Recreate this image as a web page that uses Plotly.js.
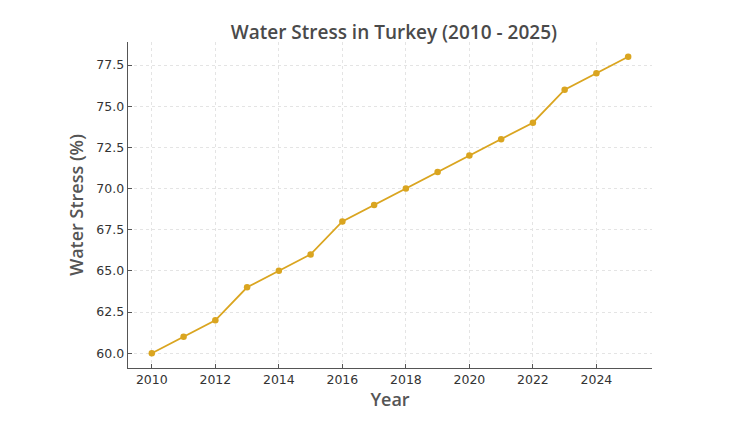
<!DOCTYPE html>
<html>
<head>
<meta charset="utf-8">
<script src="https://cdn.plot.ly/plotly-3.0.1.min.js"></script>
<style>
  body { margin: 0; background: #fff; }
  #myDiv { width: 746px; height: 423px; }
</style>
</head>
<body>
<div id="myDiv"></div>
<script>
// Datos
const years = [2010, 2011, 2012, 2013, 2014, 2015, 2016, 2017, 2018, 2019, 2020, 2021, 2022, 2023, 2024, 2025];
const waterStress = [60, 61, 62, 64, 65, 66, 68, 69, 70, 71, 72, 73, 74, 76, 77, 78];
const xTicks = [2010, 2012, 2014, 2016, 2018, 2020, 2022, 2024];
const yTicks = [60, 62.5, 65, 67.5, 70, 72.5, 75, 77.5];

let trace = {
    x: years,
    y: waterStress,
    mode: 'lines+markers',
    type: 'scatter',
    hoverinfo: 'none',
    line: { width: 1.8, color: '#DAA520' },
    marker: { size: 6.5, color: '#DAA520' }
};

let layout = {
    title: {
        text: 'Water Stress in Turkey (2010 - 2025)',
        font: { family: 'Open Sans', size: 19, color: '#4a4a4a', weight: 600 },
        x: 0.528, xanchor: 'center', y: 0.94
    },
    paper_bgcolor: '#ffffff',
    plot_bgcolor: '#ffffff',
    xaxis: {
        title: { text: 'Year', font: { family: 'Open Sans', size: 18, color: '#555555', weight: 600 }, standoff: 3 },
        range: [2009.25, 2025.75],
        tickvals: xTicks,
        ticktext: xTicks.map(String),
        tickfont: { family: 'DejaVu Sans', size: 12.5, color: '#333333' },
        ticks: 'inside',
        ticklen: 4,
        tickcolor: '#555555',
        showline: true,
        linecolor: '#555555',
        linewidth: 1.3,
        showgrid: true,
        gridcolor: '#e4e4e4',
        griddash: 'dot',
        zeroline: false,
        fixedrange: true
    },
    yaxis: {
        title: { text: 'Water Stress (%)', font: { family: 'Open Sans', size: 18, color: '#555555', weight: 600 }, standoff: 8 },
        range: [59.1, 78.9],
        tickvals: yTicks,
        ticktext: yTicks.map(v => v.toFixed(1)),
        tickfont: { family: 'DejaVu Sans', size: 12.5, color: '#333333' },
        ticks: 'inside',
        ticklen: 4,
        tickcolor: '#555555',
        showline: true,
        linecolor: '#555555',
        linewidth: 1.3,
        showgrid: true,
        gridcolor: '#e4e4e4',
        griddash: 'dot',
        zeroline: false,
        fixedrange: true
    },
    margin: { l: 128, r: 94, t: 42, b: 55 },
    showlegend: false,
    width: 746,
    height: 423
};

Plotly.newPlot('myDiv', [trace], layout, { displayModeBar: false, staticPlot: true });
</script>
</body>
</html>
